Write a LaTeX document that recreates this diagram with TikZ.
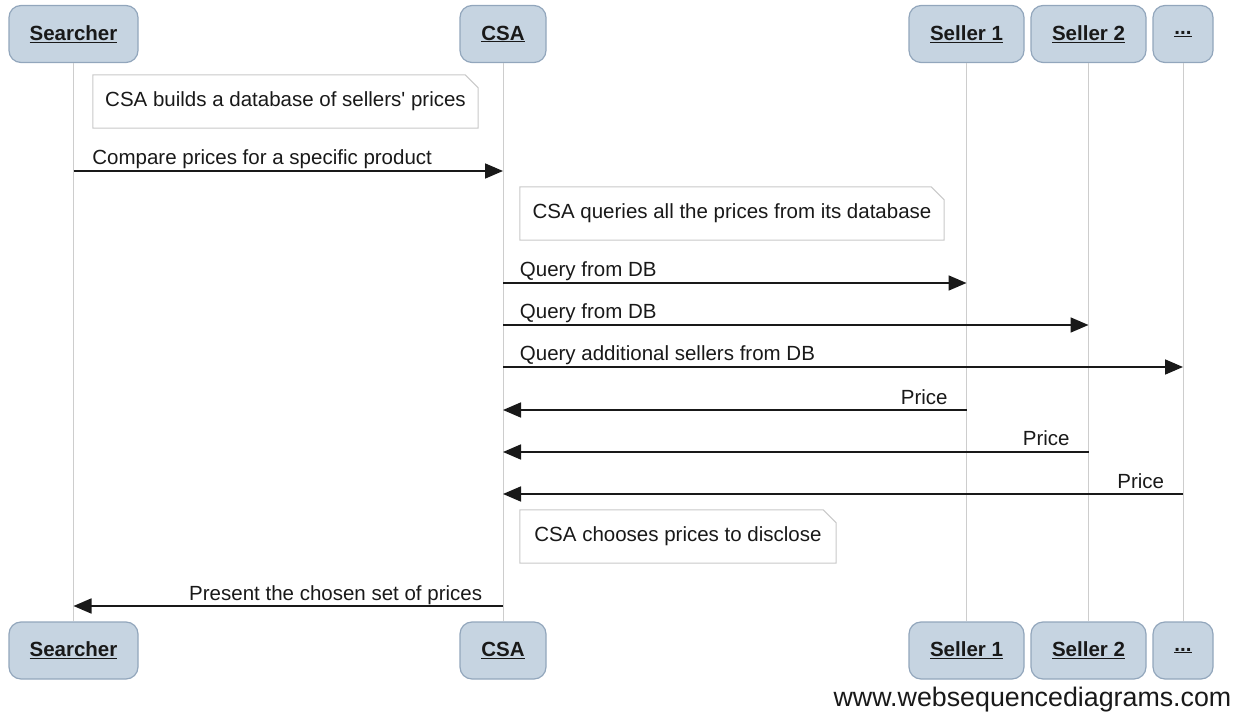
\documentclass[tikz,border=0pt]{standalone}
\usepackage{fontspec}
\setmainfont{Liberation Sans}
\newfontfamily\plainquote{Liberation Sans}
\usetikzlibrary{arrows.meta}

\definecolor{actorfill}{RGB}{198,212,225}
\definecolor{actorline}{RGB}{146,166,188}
\definecolor{lifegray}{RGB}{205,205,205}
\definecolor{notegray}{RGB}{200,200,200}
\definecolor{inkgray}{RGB}{25,25,25}

\begin{document}
\begin{tikzpicture}[x=1pt, y=-1pt,
	actor/.style={draw=actorline, fill=actorfill, rounded corners=12pt, line width=1.2pt, minimum height=57pt, inner sep=0pt, text=inkgray, font=\fontsize{20.5}{24}\selectfont\bfseries},
	lifeline/.style={draw=lifegray, line width=1pt},
	msg/.style={-{Triangle[length=18pt,width=15pt]}, line width=1.8pt, draw=inkgray},
	lbl/.style={inner sep=0pt, text=inkgray, font=\fontsize{20.5}{24}\selectfont},
	note/.style={inner sep=0pt, text=inkgray, font=\fontsize{20.5}{24}\selectfont, minimum height=53pt}]

	\useasboundingbox (0,0) rectangle (1243,719);

	% Participants (top)
	\node[actor, minimum width=129pt] (searcher) at (73.5,34) {\underline{Searcher}};
	\node[actor, minimum width=86pt] (csa) at (503,34) {\underline{CSA}};
	\node[actor, minimum width=115pt] (seller1) at (966.5,34) {\underline{Seller 1}};
	\node[actor, minimum width=115pt] (seller2) at (1088.5,34) {\underline{Seller 2}};
	\node[actor, minimum width=60pt] (more) at (1183,34) {\underline{...}};

	% Participants (bottom)
	\node[actor, minimum width=129pt] (searcherB) at (73.5,650.5) {\underline{Searcher}};
	\node[actor, minimum width=86pt] (csaB) at (503,650.5) {\underline{CSA}};
	\node[actor, minimum width=115pt] (seller1B) at (966.5,650.5) {\underline{Seller 1}};
	\node[actor, minimum width=115pt] (seller2B) at (1088.5,650.5) {\underline{Seller 2}};
	\node[actor, minimum width=60pt] (moreB) at (1183,650.5) {\underline{...}};

	% Lifelines
	\foreach \p in {searcher, csa, seller1, seller2, more}
		\draw[lifeline] (\p.south) -- (\p B.north);

	% Notes
	\node[note, minimum width=385pt] (note1) at (285.5,101.5) {CSA builds a database of sellers{\plainquote'} prices};
	\node[note, minimum width=424pt] (note2) at (732,213.5) {CSA queries all the prices from its database};
	\node[note, minimum width=316pt] (note3) at (678,536.5) {CSA chooses prices to disclose};
	\foreach \n in {note1, note2, note3}
		\draw[notegray, line width=1pt] (\n.north west) -- ([xshift=-13pt]\n.north east) -- ([yshift=-13pt]\n.north east) -- (\n.south east) -- (\n.south west) -- cycle;

	% Message rows
	\coordinate (r1) at (0,171);
	\coordinate (r2) at (0,283);
	\coordinate (r3) at (0,325);
	\coordinate (r4) at (0,367);
	\coordinate (r5) at (0,410);
	\coordinate (r6) at (0,452);
	\coordinate (r7) at (0,494);
	\coordinate (r8) at (0,606);

	% Messages
	\draw[msg] (searcher |- r1) -- (csa |- r1) node[lbl, pos=0, anchor=base west, xshift=18pt, yshift=6pt] {Compare prices for a specific product};
	\draw[msg] (csa |- r2) -- (seller1 |- r2) node[lbl, pos=0, anchor=base west, xshift=16pt, yshift=6pt] {Query from DB};
	\draw[msg] (csa |- r3) -- (seller2 |- r3) node[lbl, pos=0, anchor=base west, xshift=16pt, yshift=6pt] {Query from DB};
	\draw[msg] (csa |- r4) -- (more |- r4) node[lbl, pos=0, anchor=base west, xshift=16pt, yshift=6pt] {Query additional sellers from DB};
	\draw[msg] (seller1 |- r5) -- (csa |- r5) node[lbl, pos=0, anchor=base east, xshift=-18pt, yshift=6pt] {Price};
	\draw[msg] (seller2 |- r6) -- (csa |- r6) node[lbl, pos=0, anchor=base east, xshift=-18pt, yshift=6pt] {Price};
	\draw[msg] (more |- r7) -- (csa |- r7) node[lbl, pos=0, anchor=base east, xshift=-18pt, yshift=6pt] {Price};
	\draw[msg] (csa |- r8) -- (searcher |- r8) node[lbl, pos=0, anchor=base east, xshift=-20pt, yshift=6pt] {Present the chosen set of prices};

	% Watermark
	\node[lbl, font=\fontsize{26.8}{30}\selectfont] (mark) at (1032.5,700) {www.websequencediagrams.com};
\end{tikzpicture}
\end{document}
